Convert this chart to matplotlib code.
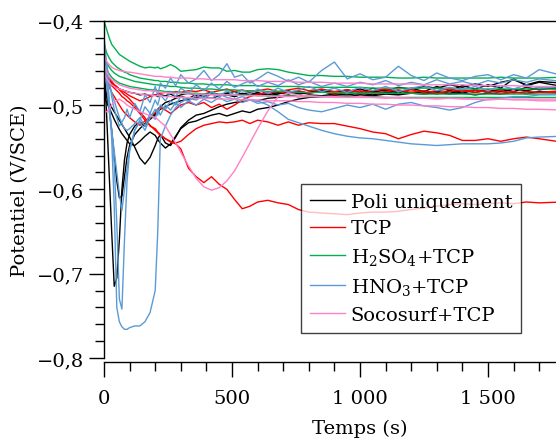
# Open circuit potential vs time, several samples per surface treatment

from matplotlib import pyplot as plt
from matplotlib.ticker import MultipleLocator, FixedLocator, FuncFormatter

plt.rcParams['font.family'] = ['DejaVu Serif']
plt.rcParams['mathtext.fontset'] = 'dejavuserif'

# --- DATA ---

# time grid (s)
t = [0, 5, 10, 20, 30, 40, 50, 60, 70, 80,
     90, 100, 120, 140, 160, 180, 200, 210, 220, 240,
     260, 280, 300, 330, 360, 390, 420, 450, 480, 510,
     540, 570, 600, 640, 680, 720, 760, 800, 850, 900,
     950, 1000, 1050, 1100, 1150, 1200, 1250, 1300, 1350, 1400,
     1450, 1500, 1550, 1600, 1650, 1700, 1790]

# Poli uniquement
black_1 = [-0.460, -0.480, -0.510, -0.580, -0.650, -0.715, -0.705, -0.660, -0.600, -0.565,
           -0.545, -0.535, -0.525, -0.520, -0.525, -0.515, -0.510, -0.505, -0.502, -0.497,
           -0.495, -0.492, -0.490, -0.492, -0.488, -0.490, -0.487, -0.489, -0.486, -0.490,
           -0.486, -0.488, -0.485, -0.489, -0.487, -0.484, -0.487, -0.485, -0.484, -0.487,
           -0.485, -0.487, -0.484, -0.486, -0.483, -0.486, -0.484, -0.487, -0.483, -0.486,
           -0.482, -0.485, -0.481, -0.484, -0.479, -0.482, -0.478]
black_2 = [-0.470, -0.478, -0.488, -0.505, -0.530, -0.560, -0.590, -0.610, -0.608, -0.585,
           -0.562, -0.548, -0.535, -0.528, -0.522, -0.517, -0.512, -0.508, -0.505, -0.502,
           -0.499, -0.497, -0.495, -0.493, -0.491, -0.490, -0.492, -0.489, -0.488, -0.490,
           -0.487, -0.489, -0.486, -0.488, -0.485, -0.487, -0.484, -0.486, -0.483, -0.485,
           -0.482, -0.485, -0.480, -0.483, -0.479, -0.481, -0.478, -0.480, -0.476, -0.479,
           -0.475, -0.478, -0.473, -0.470, -0.476, -0.472, -0.474]
black_3 = [-0.480, -0.485, -0.490, -0.497, -0.503, -0.508, -0.513, -0.518, -0.523, -0.528,
           -0.533, -0.538, -0.550, -0.563, -0.570, -0.562, -0.548, -0.540, -0.535, -0.545,
           -0.548, -0.538, -0.527, -0.518, -0.512, -0.510, -0.506, -0.502, -0.499, -0.497,
           -0.496, -0.494, -0.495, -0.492, -0.491, -0.489, -0.490, -0.488, -0.489, -0.487,
           -0.488, -0.486, -0.488, -0.485, -0.487, -0.485, -0.486, -0.484, -0.486, -0.483,
           -0.485, -0.482, -0.484, -0.481, -0.483, -0.480, -0.481]
black_4 = [-0.490, -0.493, -0.497, -0.503, -0.510, -0.517, -0.523, -0.529, -0.534, -0.538,
           -0.542, -0.546, -0.548, -0.543, -0.537, -0.532, -0.536, -0.541, -0.545, -0.551,
           -0.546, -0.537, -0.528, -0.521, -0.519, -0.515, -0.512, -0.510, -0.513, -0.510,
           -0.507, -0.509, -0.505, -0.503, -0.500, -0.496, -0.493, -0.491, -0.490, -0.489,
           -0.490, -0.488, -0.489, -0.487, -0.488, -0.486, -0.487, -0.485, -0.487, -0.486,
           -0.488, -0.486, -0.487, -0.485, -0.486, -0.484, -0.485]
black_5 = [-0.455, -0.460, -0.465, -0.470, -0.474, -0.477, -0.479, -0.481, -0.482, -0.483,
           -0.484, -0.485, -0.486, -0.488, -0.487, -0.489, -0.488, -0.490, -0.488, -0.489,
           -0.487, -0.490, -0.488, -0.486, -0.489, -0.487, -0.485, -0.488, -0.486, -0.484,
           -0.487, -0.485, -0.488, -0.484, -0.486, -0.483, -0.487, -0.485, -0.482, -0.486,
           -0.484, -0.481, -0.485, -0.482, -0.486, -0.480, -0.484, -0.478, -0.483, -0.477,
           -0.481, -0.476, -0.480, -0.469, -0.477, -0.473, -0.478]

# TCP
red_1 = [-0.462, -0.463, -0.465, -0.468, -0.472, -0.476, -0.478, -0.482, -0.485, -0.488,
         -0.490, -0.493, -0.500, -0.508, -0.515, -0.525, -0.528, -0.532, -0.535, -0.540,
         -0.544, -0.546, -0.552, -0.575, -0.585, -0.592, -0.585, -0.594, -0.600, -0.612,
         -0.623, -0.620, -0.615, -0.613, -0.616, -0.618, -0.624, -0.627, -0.628, -0.629,
         -0.630, -0.628, -0.627, -0.627, -0.626, -0.624, -0.622, -0.620, -0.618, -0.617,
         -0.618, -0.617, -0.616, -0.617, -0.615, -0.616, -0.615]
red_2 = [-0.465, -0.468, -0.470, -0.473, -0.477, -0.480, -0.483, -0.486, -0.490, -0.492,
         -0.495, -0.497, -0.503, -0.510, -0.518, -0.524, -0.530, -0.533, -0.536, -0.540,
         -0.543, -0.545, -0.543, -0.535, -0.528, -0.524, -0.522, -0.520, -0.521, -0.520,
         -0.518, -0.522, -0.518, -0.520, -0.524, -0.520, -0.524, -0.521, -0.522, -0.522,
         -0.525, -0.528, -0.532, -0.534, -0.540, -0.535, -0.531, -0.533, -0.536, -0.542,
         -0.542, -0.540, -0.543, -0.540, -0.538, -0.540, -0.544]
red_3 = [-0.460, -0.465, -0.470, -0.478, -0.485, -0.490, -0.495, -0.500, -0.505, -0.509,
         -0.512, -0.515, -0.520, -0.524, -0.519, -0.514, -0.509, -0.505, -0.503, -0.506,
         -0.510, -0.505, -0.500, -0.497, -0.500, -0.497, -0.503, -0.499, -0.505, -0.500,
         -0.494, -0.490, -0.487, -0.486, -0.484, -0.487, -0.483, -0.486, -0.484, -0.487,
         -0.485, -0.483, -0.486, -0.484, -0.482, -0.485, -0.483, -0.486, -0.484, -0.482,
         -0.485, -0.483, -0.486, -0.484, -0.487, -0.485, -0.486]
red_4 = [-0.455, -0.460, -0.464, -0.469, -0.473, -0.476, -0.479, -0.481, -0.483, -0.485,
         -0.487, -0.489, -0.492, -0.495, -0.493, -0.490, -0.488, -0.487, -0.486, -0.485,
         -0.486, -0.484, -0.485, -0.483, -0.484, -0.482, -0.485, -0.483, -0.481, -0.484,
         -0.482, -0.485, -0.483, -0.481, -0.484, -0.482, -0.480, -0.483, -0.481, -0.484,
         -0.482, -0.485, -0.483, -0.481, -0.484, -0.482, -0.485, -0.483, -0.481, -0.484,
         -0.482, -0.485, -0.483, -0.486, -0.484, -0.485, -0.483]

# H2SO4+TCP
green_1 = [-0.400, -0.405, -0.410, -0.420, -0.428, -0.432, -0.436, -0.440, -0.442, -0.444,
           -0.446, -0.448, -0.451, -0.454, -0.456, -0.455, -0.456, -0.455, -0.457, -0.455,
           -0.452, -0.455, -0.460, -0.459, -0.458, -0.455, -0.456, -0.456, -0.460, -0.459,
           -0.461, -0.461, -0.458, -0.457, -0.458, -0.461, -0.463, -0.465, -0.465, -0.466,
           -0.466, -0.467, -0.467, -0.467, -0.468, -0.468, -0.467, -0.468, -0.468, -0.468,
           -0.468, -0.468, -0.467, -0.468, -0.468, -0.468, -0.467]
green_2 = [-0.425, -0.432, -0.438, -0.444, -0.449, -0.452, -0.455, -0.457, -0.459, -0.461,
           -0.462, -0.464, -0.466, -0.468, -0.469, -0.470, -0.471, -0.471, -0.472, -0.472,
           -0.473, -0.473, -0.474, -0.474, -0.475, -0.475, -0.476, -0.476, -0.476, -0.477,
           -0.477, -0.477, -0.477, -0.478, -0.478, -0.478, -0.478, -0.479, -0.479, -0.479,
           -0.479, -0.479, -0.480, -0.480, -0.480, -0.480, -0.480, -0.480, -0.480, -0.481,
           -0.481, -0.481, -0.481, -0.481, -0.481, -0.481, -0.481]
green_3 = [-0.440, -0.445, -0.450, -0.455, -0.459, -0.462, -0.464, -0.466, -0.467, -0.468,
           -0.469, -0.470, -0.472, -0.473, -0.474, -0.475, -0.476, -0.476, -0.477, -0.477,
           -0.478, -0.478, -0.479, -0.480, -0.480, -0.481, -0.481, -0.482, -0.482, -0.482,
           -0.483, -0.483, -0.483, -0.484, -0.484, -0.484, -0.485, -0.485, -0.485, -0.485,
           -0.486, -0.486, -0.486, -0.486, -0.486, -0.486, -0.487, -0.487, -0.487, -0.487,
           -0.487, -0.487, -0.487, -0.487, -0.487, -0.487, -0.487]
green_4 = [-0.445, -0.452, -0.458, -0.463, -0.467, -0.470, -0.472, -0.474, -0.475, -0.476,
           -0.477, -0.478, -0.479, -0.480, -0.481, -0.482, -0.482, -0.483, -0.483, -0.484,
           -0.484, -0.485, -0.485, -0.486, -0.486, -0.487, -0.487, -0.487, -0.488, -0.488,
           -0.488, -0.488, -0.489, -0.489, -0.489, -0.489, -0.490, -0.490, -0.490, -0.490,
           -0.490, -0.490, -0.490, -0.491, -0.491, -0.491, -0.491, -0.491, -0.491, -0.491,
           -0.491, -0.491, -0.491, -0.491, -0.491, -0.491, -0.491]

# HNO3+TCP
blue_1 = [-0.430, -0.445, -0.460, -0.490, -0.540, -0.620, -0.740, -0.757, -0.763, -0.766,
          -0.766, -0.764, -0.762, -0.762, -0.757, -0.746, -0.720, -0.650, -0.540, -0.525,
          -0.512, -0.503, -0.497, -0.492, -0.494, -0.489, -0.492, -0.487, -0.491, -0.493,
          -0.490, -0.494, -0.495, -0.500, -0.508, -0.517, -0.521, -0.525, -0.530, -0.534,
          -0.537, -0.539, -0.540, -0.542, -0.544, -0.546, -0.547, -0.548, -0.547, -0.546,
          -0.546, -0.546, -0.545, -0.543, -0.539, -0.538, -0.537]
blue_2 = [-0.440, -0.455, -0.470, -0.500, -0.530, -0.570, -0.640, -0.730, -0.742, -0.660,
          -0.590, -0.555, -0.530, -0.520, -0.530, -0.515, -0.505, -0.512, -0.500, -0.505,
          -0.495, -0.500, -0.490, -0.496, -0.487, -0.493, -0.484, -0.490, -0.483, -0.488,
          -0.482, -0.487, -0.481, -0.486, -0.480, -0.485, -0.482, -0.478, -0.484, -0.480,
          -0.485, -0.479, -0.483, -0.478, -0.484, -0.480, -0.477, -0.483, -0.479, -0.482,
          -0.478, -0.483, -0.477, -0.481, -0.476, -0.480, -0.478]
blue_3 = [-0.420, -0.435, -0.450, -0.470, -0.490, -0.505, -0.515, -0.525, -0.520, -0.515,
          -0.505, -0.515, -0.498, -0.508, -0.488, -0.497, -0.478, -0.488, -0.474, -0.480,
          -0.468, -0.477, -0.464, -0.474, -0.469, -0.459, -0.471, -0.464, -0.451, -0.467,
          -0.464, -0.474, -0.469, -0.461, -0.466, -0.472, -0.467, -0.473, -0.459, -0.449,
          -0.469, -0.463, -0.470, -0.467, -0.454, -0.465, -0.471, -0.462, -0.468, -0.471,
          -0.466, -0.464, -0.470, -0.464, -0.468, -0.458, -0.465]
blue_4 = [-0.445, -0.460, -0.475, -0.505, -0.530, -0.555, -0.580, -0.605, -0.625, -0.600,
          -0.575, -0.553, -0.530, -0.518, -0.502, -0.510, -0.494, -0.500, -0.488, -0.495,
          -0.484, -0.490, -0.480, -0.486, -0.476, -0.483, -0.474, -0.481, -0.472, -0.479,
          -0.475, -0.471, -0.478, -0.473, -0.477, -0.470, -0.476, -0.472, -0.478, -0.474,
          -0.478, -0.473, -0.476, -0.471, -0.477, -0.473, -0.476, -0.470, -0.475, -0.472,
          -0.476, -0.471, -0.474, -0.470, -0.473, -0.469, -0.472]
blue_5 = [-0.450, -0.458, -0.465, -0.475, -0.485, -0.495, -0.505, -0.515, -0.522, -0.528,
          -0.530, -0.528, -0.522, -0.515, -0.525, -0.510, -0.517, -0.505, -0.512, -0.500,
          -0.506, -0.497, -0.503, -0.495, -0.500, -0.493, -0.497, -0.491, -0.496, -0.493,
          -0.497, -0.494, -0.498, -0.496, -0.500, -0.498, -0.503, -0.506, -0.508, -0.504,
          -0.500, -0.503, -0.499, -0.505, -0.499, -0.497, -0.501, -0.503, -0.506, -0.503,
          -0.497, -0.493, -0.492, -0.490, -0.490, -0.488, -0.488]

# Socosurf+TCP
pink_1 = [-0.505, -0.508, -0.508, -0.505, -0.500, -0.497, -0.495, -0.493, -0.495, -0.497,
          -0.500, -0.502, -0.505, -0.508, -0.510, -0.513, -0.515, -0.517, -0.520, -0.525,
          -0.535, -0.545, -0.556, -0.572, -0.587, -0.597, -0.601, -0.598, -0.590, -0.578,
          -0.562, -0.545, -0.528, -0.507, -0.490, -0.486, -0.488, -0.489, -0.490, -0.490,
          -0.491, -0.490, -0.491, -0.492, -0.491, -0.492, -0.492, -0.493, -0.492, -0.493,
          -0.493, -0.494, -0.493, -0.494, -0.494, -0.495, -0.495]
pink_2 = [-0.440, -0.445, -0.448, -0.452, -0.455, -0.457, -0.458, -0.459, -0.460, -0.460,
          -0.461, -0.461, -0.462, -0.463, -0.464, -0.465, -0.466, -0.466, -0.466, -0.467,
          -0.467, -0.468, -0.468, -0.468, -0.469, -0.469, -0.470, -0.470, -0.470, -0.470,
          -0.471, -0.471, -0.471, -0.472, -0.472, -0.472, -0.473, -0.473, -0.473, -0.474,
          -0.474, -0.474, -0.475, -0.475, -0.475, -0.475, -0.476, -0.476, -0.476, -0.476,
          -0.477, -0.477, -0.477, -0.477, -0.478, -0.478, -0.478]
pink_3 = [-0.450, -0.456, -0.461, -0.466, -0.470, -0.472, -0.474, -0.476, -0.477, -0.478,
          -0.479, -0.480, -0.481, -0.482, -0.483, -0.483, -0.484, -0.484, -0.485, -0.485,
          -0.486, -0.486, -0.486, -0.487, -0.487, -0.487, -0.488, -0.488, -0.488, -0.488,
          -0.489, -0.489, -0.489, -0.489, -0.490, -0.490, -0.490, -0.490, -0.490, -0.491,
          -0.491, -0.491, -0.491, -0.491, -0.492, -0.492, -0.492, -0.492, -0.492, -0.492,
          -0.493, -0.493, -0.493, -0.493, -0.493, -0.493, -0.493]
pink_4 = [-0.460, -0.465, -0.469, -0.473, -0.476, -0.478, -0.480, -0.481, -0.482, -0.483,
          -0.484, -0.485, -0.486, -0.487, -0.488, -0.488, -0.489, -0.489, -0.489, -0.490,
          -0.490, -0.491, -0.491, -0.491, -0.492, -0.492, -0.492, -0.493, -0.493, -0.493,
          -0.494, -0.494, -0.494, -0.495, -0.495, -0.495, -0.496, -0.496, -0.497, -0.497,
          -0.498, -0.498, -0.499, -0.499, -0.500, -0.500, -0.501, -0.501, -0.502, -0.502,
          -0.503, -0.503, -0.504, -0.504, -0.505, -0.505, -0.506]

labels = ['Poli uniquement', 'TCP', 'H$_2$SO$_4$+TCP', 'HNO$_3$+TCP', 'Socosurf+TCP']
colors = ['#000000', '#ff0000', '#00b050', '#5b9bd5', '#ff80c8']
groups = [[black_1, black_2, black_3, black_4, black_5],
          [red_1, red_2, red_3, red_4],
          [green_1, green_2, green_3, green_4],
          [blue_1, blue_2, blue_3, blue_4, blue_5],
          [pink_1, pink_2, pink_3, pink_4]]

x_ticks = [0, 500, 1000, 1500]


# --- FIGURE ---

fig = plt.figure(figsize=(5.56, 4.39), dpi=100)
# axes runs past the right edge of the picture, like the cropped original
ax = fig.add_axes([104/556, 80/439, 512/556, 337.3/439])

for label, color, curves in zip(labels, colors, groups):
	for k, v in enumerate(curves):
		ax.plot(t, v, color=color, lw=1.0, label=label if k == 0 else None)

ax.set_xlim(0, 2000)
ax.set_ylim(-0.8, -0.4)

ax.xaxis.set_major_locator(FixedLocator(x_ticks))
ax.xaxis.set_minor_locator(MultipleLocator(100))
ax.yaxis.set_major_locator(MultipleLocator(0.1))
ax.yaxis.set_minor_locator(MultipleLocator(0.02))

ax.xaxis.set_major_formatter(FuncFormatter(lambda x, p: f"{int(x):,}".replace(',', ' ')))
ax.yaxis.set_major_formatter(FuncFormatter(lambda y, p: f"{y:.1f}".replace('.', ',').replace('-', '\u2212')))

ax.spines['bottom'].set_position(('outward', 3))
for s in ax.spines.values():
	s.set_linewidth(1.0)

ax.tick_params(which='major', direction='out', length=11, width=1, labelsize=14)
ax.tick_params(which='minor', direction='out', length=6.5, width=1)
ax.tick_params(axis='x', which='major', pad=8)
ax.tick_params(axis='y', which='major', pad=3)

ax.set_xlabel('Temps (s)', fontsize=14, labelpad=9)
ax.set_ylabel('Potentiel (V/SCE)', fontsize=14, labelpad=6)

leg = ax.legend(loc='upper left', bbox_to_anchor=(301/556, 1 - 185/439), bbox_transform=fig.transFigure,
	borderaxespad=0, fontsize=14, fancybox=False, framealpha=0.75, edgecolor='black',
	handlelength=1.8, handletextpad=0.3, labelspacing=0.45, borderpad=0.45)
leg.get_frame().set_linewidth(1.0)

fig.savefig('out.png', dpi=100)
